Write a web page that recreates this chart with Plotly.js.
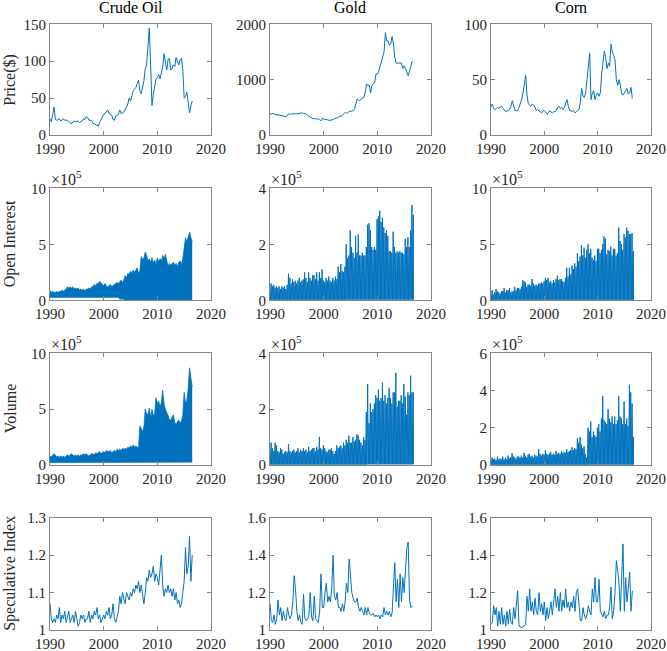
<!DOCTYPE html>
<html><head><meta charset="utf-8">
<script src="https://cdn.plot.ly/plotly-3.0.1.min.js"></script>
<style>html,body{margin:0;padding:0;background:#fff}#chart{width:667px;height:651px}</style>
</head><body><div id="chart"></div>
<script>
// ---------- data (quarterly samples, 1990.00 ... 2016.50) ----------
const startYear = 1990, stepYear = 0.25;
const commodities = ['Crude Oil', 'Gold', 'Corn'];
const rowLabels = ['Price($)', 'Open Interest', 'Volume', 'Speculative Index'];
const xTickVals = [1990, 2000, 2010, 2020];
const xTickText = ['1990', '2000', '2010', '2020'];

// Row 1: prices
const oilPrice = [22,18,28,38, 21,20,21,22, 19,21,22,20, 20,20,18,16, 15,18,19,18, 18,19,17,18,
  19,22,21,25, 24,20,20,20, 16,15,14,12, 12,17,21,24, 28,29,31,34, 29,28,27,21, 20,26,27,28,
  34,29,30,31, 34,39,42,50, 46,53,60,62, 64,70,74,60, 56,64,74,90, 95,120,145,95, 40,55,68,76,
  78,82,76,84, 92,110,98,88, 102,104,88,90, 95,93,105,98, 95,102,104,88, 50,52,58,45, 30,40,46];
const goldPrice = [400,370,390,380, 365,360,365,360, 350,340,345,335, 330,360,390,365, 385,380,385,385,
  380,385,385,385, 400,390,385,380, 350,340,325,310, 295,300,290,295, 290,280,255,300, 285,280,280,270,
  265,265,270,280, 295,310,310,320, 350,330,360,385, 410,390,400,430, 425,430,440,470, 560,650,630,620,
  650,670,680,780, 920,900,900,760, 900,920,950,1100, 1100,1150,1230,1350, 1400,1500,1850,1700,
  1700,1620,1650,1780, 1650,1400,1300,1300, 1300,1300,1300,1200, 1250,1200,1150,1070, 1150,1250,1340];
const cornPrice = [25,28,24,23, 24,25,24,25, 26,24,22,21, 22,22,23,26, 31,27,22,22, 22,25,28,32,
  38,48,54,36, 28,27,26,28, 27,25,22,23, 22,21,20,22, 22,21,19,20, 22,21,20,21, 21,22,25,26,
  24,25,23,25, 28,32,26,22, 22,21,22,20, 21,22,23,30, 42,35,34,38, 50,62,74,32, 38,40,32,36,
  38,35,38,55, 65,76,70,60, 65,62,82,75, 72,68,50,45, 50,45,37,36, 38,40,42,37, 38,43,33];

// Row 2: open interest (x10^5)
const oilOIUpper = [0.9,0.7,0.8,0.7, 0.7,0.8,0.7,0.8, 0.8,0.9,0.8,0.9, 1.0,1.2,1.1,1.2, 1.1,1.2,1.0,1.1,
  1.0,1.1,0.9,1.0, 0.9,1.0,0.8,1.0, 1.0,1.1,1.0,1.2, 1.2,1.4,1.3,1.5, 1.5,1.7,1.5,1.4, 1.3,1.5,1.3,1.2,
  1.3,1.4,1.2,1.3, 1.4,1.5,1.6,1.5, 1.7,1.8,1.6,1.8, 2.2,2.0,2.4,2.3, 2.6,2.4,2.7,2.5, 2.7,2.9,2.4,2.6,
  3.9,3.6,3.8,4.3, 4.0,3.5,3.7,3.4, 3.8,3.3,3.6,3.2, 3.8,3.4,3.7,3.5, 4.0,3.7,4.1,3.6, 3.0,3.3,3.1,3.3,
  3.4,3.1,3.3,3.0, 3.4,3.5,3.2,3.7, 5.0,5.6,5.2,5.8, 6.1,5.6,5.3];
const oilOILowerYearly = [0.25,0.25,0.25,0.25,0.25,0.25,0.25,0.25,0.25,0.25,0.25,0.25,0.25,0.1,
  0,0,0,0,0,0,0,0,0,0,0,0,0];
const goldOIPeak = [0.6,0.5,0.55,0.45, 0.5,0.45,0.5,0.4, 0.5,0.45,0.5,0.4, 0.55,0.95,0.8,0.6, 0.75,0.65,0.7,0.6,
  0.7,0.8,0.65,0.7, 0.75,1.0,0.8,0.65, 1.0,0.8,0.7,0.9, 0.9,0.75,1.0,0.7, 1.0,0.8,1.1,0.7, 0.65,0.8,0.7,0.85,
  0.7,0.65,0.8,0.7, 0.85,0.75,1.2,1.0, 1.3,1.05,1.0,1.2, 2.0,1.5,1.6,2.5, 1.9,1.7,1.5,2.3, 1.7,2.35,1.6,1.6,
  1.7,1.6,1.6,1.9, 2.7,2.75,2.5,1.9, 1.8,1.9,1.8,2.9, 3.0,3.2,2.8,2.95, 2.6,2.4,2.5,2.3, 1.75,1.75,1.7,2.45,
  1.9,1.7,1.75,1.7, 1.75,1.7,1.7,1.65, 2.2,1.9,2.25,1.9, 2.5,3.4,3.05];
const goldOITroughYearly = [0.02,0.02,0.02,0.02,0.02,0.02,0.02,0.02,0.02,0.02,0.02,0.02,0.02,0.02,
  0.03,0.03,0.03,0.03,0.03,0.03,0.03,0.03,0.03,0.03,0.03,0.03,0.03];
const cornOIPeak = [0.9,0.5,0.7,1.0, 0.8,0.7,0.6,0.8, 0.8,1.1,0.7,0.9, 0.9,1.1,0.7,0.8, 0.8,1.2,0.9,1.1,
  1.1,1.0,1.2,1.8, 1.7,1.6,1.2,1.4, 1.4,1.3,1.9,1.5, 1.3,1.4,1.3,1.5, 1.5,1.6,1.5,1.7, 2.0,1.8,2.0,1.6,
  1.7,1.5,1.8,1.6, 1.9,2.2,1.8,1.9, 1.9,1.7,1.6,2.0, 2.9,2.1,2.9,2.3, 3.1,2.8,3.3,3.0, 4.2,3.5,3.9,4.9,
  4.0,4.7,3.8,4.5, 5.0,4.2,4.6,3.8, 3.6,4.0,3.5,4.6, 4.6,4.2,4.5,5.0, 5.7,5.5,4.1,4.5, 4.4,4.8,4.0,4.6,
  4.6,4.0,4.2,6.5, 5.3,5.0,4.5,5.9, 5.6,6.5,6.2,5.9, 5.9,6.0,4.4];
const cornOITroughYearly = [0.05,0.05,0.05,0.05,0.05,0.05,0.05,0.05,0.05,0.05,0.05,0.05,0.05,0.05,
  0.05,0.05,0.05,0.05,0.05,0.05,0.05,0.05,0.05,0.05,0.05,0.05,0.05];

// Row 3: volume (x10^5)
const oilVolUpper = [0.8,0.7,0.9,1.0, 0.9,0.7,0.8,0.7, 0.8,0.7,0.8,0.7, 0.8,0.9,0.8,0.9, 1.0,0.9,0.8,0.9,
  0.8,0.9,0.8,0.9, 0.9,1.0,0.9,1.0, 0.9,0.8,0.9,1.0, 1.0,0.9,1.1,1.0, 1.1,1.2,1.0,1.1, 1.2,1.1,1.3,1.2,
  1.2,1.3,1.1,1.2, 1.3,1.2,1.4,1.3, 1.4,1.3,1.5,1.4, 1.5,1.4,1.6,1.5, 1.7,1.6,1.8,1.6, 1.7,1.6,1.5,3.5,
  3.2,3.0,3.4,5.0, 4.6,4.5,5.1,4.2, 5.0,4.4,4.6,6.0, 5.5,5.7,5.2,5.6, 6.7,5.5,5.0,4.6, 4.4,4.1,4.0,4.3,
  4.5,3.8,3.6,3.9, 4.0,3.8,3.9,4.5, 6.5,5.5,5.8,6.8, 8.7,7.8,7.0];
const oilVolLowerYearly = [0.2,0.2,0.2,0.2,0.2,0.2,0.2,0.2,0.2,0.2,0.2,0.2,0.2,0.2,0.2,0.2,0.2,
  0.25,0.25,0.25,0.25,0.25,0.25,0.25,0.25,0.25,0.25];
const goldVolPeak = [0.8,0.6,0.5,0.8, 0.7,0.5,0.45,0.6, 0.55,0.4,0.45,0.5, 0.45,0.75,0.5,0.45, 0.5,0.55,0.45,0.5,
  0.6,0.45,0.55,0.5, 0.6,0.5,0.55,0.45, 0.65,0.5,0.55,0.6, 0.6,0.5,0.65,0.55, 1.0,0.6,0.55,0.7, 0.6,0.5,0.45,0.55,
  0.55,0.6,0.5,0.4, 0.5,0.7,0.6,0.65, 0.7,0.6,0.8,0.7, 0.9,0.8,1.05,0.8, 0.8,1.0,0.85,0.9, 1.1,1.05,0.9,0.8,
  0.7,1.0,0.9,1.9, 2.9,1.5,2.2,1.9, 2.0,2.2,2.5,2.4, 2.7,2.3,2.4,2.95, 2.3,2.5,2.2,2.4, 2.75,2.4,2.2,2.6,
  2.6,3.3,2.1,2.3, 2.3,2.5,2.2,2.9, 2.45,1.8,2.6,2.5, 3.2,2.6,2.6];
const goldVolTroughYearly = [0.02,0.02,0.02,0.02,0.02,0.02,0.02,0.02,0.02,0.02,0.02,0.02,0.02,0.02,
  0.02,0.02,0.02,0.02,0.04,0.04,0.04,0.04,0.04,0.04,0.04,0.04,0.04];
const cornVolPeak = [0.4,0.3,0.35,0.25, 0.45,0.3,0.35,0.3, 0.45,0.3,0.4,0.3, 0.5,0.35,0.4,0.63, 0.45,0.4,0.35,0.45,
  0.45,0.4,0.5,0.4, 0.65,0.5,0.4,0.55, 0.6,0.45,0.5,0.4, 0.55,0.5,0.45,0.84, 0.6,0.5,0.6,0.55, 0.8,0.6,0.55,0.6,
  0.7,0.55,0.6,0.55, 0.75,0.6,0.65,0.6, 0.75,0.65,0.7,0.65, 0.85,0.7,0.75,0.8, 0.95,0.8,0.9,0.85, 1.43,1.2,1.5,1.1,
  0.9,1.0,0.6,0.4, 2.0,1.8,2.33,1.5, 1.8,1.6,1.5,2.0, 2.2,1.8,2.5,3.7, 2.4,2.3,2.2,3.0, 2.5,2.3,2.6,2.2,
  2.6,2.2,2.4,3.7, 2.6,2.5,2.2,3.4, 2.2,2.5,2.1,4.3, 3.9,3.3,1.5];
const cornVolTroughYearly = [0.02,0.02,0.02,0.02,0.02,0.02,0.02,0.02,0.02,0.02,0.02,0.02,0.02,0.02,
  0.02,0.02,0.02,0.02,0.03,0.03,0.03,0.03,0.03,0.03,0.03,0.03,0.03];

// Row 4: speculative index
const oilSpec = [1.07,1.03,1.02,1.03, 1.02,1.04,1.03,1.06, 1.02,1.04,1.03,1.05, 1.02,1.04,1.05,1.02,
  1.03,1.04,1.02,1.05, 1.03,1.01,1.02,1.04, 1.03,1.04,1.02,1.03, 1.03,1.05,1.02,1.04, 1.03,1.05,1.04,1.06,
  1.03,1.04,1.02,1.03, 1.04,1.03,1.05,1.04, 1.06,1.03,1.04,1.07, 1.03,1.02,1.04,1.05, 1.09,1.07,1.10,1.08,
  1.07,1.10,1.09,1.08, 1.10,1.09,1.11,1.10, 1.12,1.11,1.13,1.10, 1.12,1.09,1.07,1.10, 1.14,1.13,1.16,1.14,
  1.15,1.17,1.13,1.15, 1.14,1.12,1.16,1.20, 1.12,1.09,1.11,1.10, 1.12,1.10,1.11,1.09, 1.11,1.08,1.10,1.07,
  1.08,1.06,1.07,1.10, 1.13,1.22,1.15,1.17, 1.25,1.13,1.20];
const goldSpec = [1.14,1.05,1.04,1.08, 1.03,1.06,1.16,1.08, 1.12,1.05,1.10,1.06, 1.05,1.12,1.08,1.06,
  1.08,1.15,1.29,1.22, 1.10,1.05,1.08,1.04, 1.03,1.19,1.06,1.05, 1.06,1.08,1.20,1.07, 1.05,1.18,1.06,1.05,
  1.04,1.10,1.30,1.12, 1.12,1.20,1.25,1.15, 1.18,1.15,1.22,1.40, 1.18,1.16,1.20,1.12, 1.12,1.10,1.14,1.10,
  1.15,1.25,1.20,1.38, 1.30,1.20,1.17,1.15, 1.15,1.17,1.12,1.10, 1.12,1.10,1.08,1.12, 1.08,1.12,1.09,1.08,
  1.08,1.09,1.07,1.08, 1.07,1.08,1.06,1.08, 1.07,1.12,1.08,1.10, 1.08,1.10,1.07,1.09, 1.20,1.36,1.15,1.27,
  1.12,1.30,1.15,1.28, 1.20,1.35,1.44,1.47, 1.16,1.12,1.13];
const cornSpec = [1.03,1.04,1.13,1.08, 1.12,1.02,1.10,1.03, 1.12,1.03,1.08,1.02, 1.10,1.03,1.11,1.04,
  1.03,1.12,1.06,1.15, 1.21,1.02,1.02,1.01, 1.02,1.02,1.03,1.18, 1.10,1.22,1.10,1.15, 1.08,1.17,1.10,1.08,
  1.20,1.10,1.14,1.08, 1.15,1.05,1.12,1.06, 1.12,1.15,1.08,1.14, 1.22,1.12,1.18,1.10, 1.20,1.10,1.16,1.12,
  1.22,1.12,1.15,1.10, 1.15,1.12,1.18,1.10, 1.20,1.22,1.12,1.05, 1.05,1.12,1.08,1.06, 1.08,1.13,1.10,1.08,
  1.22,1.15,1.28,1.15, 1.15,1.27,1.10,1.08, 1.07,1.10,1.06,1.08, 1.08,1.12,1.23,1.06, 1.10,1.20,1.37,1.32,
  1.25,1.10,1.28,1.46, 1.10,1.28,1.15,1.25, 1.31,1.10,1.21];

// Axis ticks per panel [row][col]
const yTickVals = [
  [[0,50,100,150], [0,1000,2000], [0,50,100]],
  [[0,5,10], [0,2,4], [0,5,10]],
  [[0,5,10], [0,2,4], [0,2,4,6]],
  [[1,1.1,1.2,1.3], [1,1.2,1.4,1.6], [1,1.2,1.4,1.6]]
];
const yTickText = [
  [['0','50','100','150'], ['0','1000','2000'], ['0','50','100']],
  [['0','5','10'], ['0','2','4'], ['0','5','10']],
  [['0','5','10'], ['0','2','4'], ['0','2','4','6']],
  [['1','1.1','1.2','1.3'], ['1','1.2','1.4','1.6'], ['1','1.2','1.4','1.6']]
];
const exponentLabel = '\u00d710<sup>5</sup>';

// ---------- build ----------
const BLUE = '#0072BD';
const FONT = 'Liberation Serif';
const times = n => Array.from({length: n}, (_, i) => startYear + i * stepYear);
const byYear = (arr, n) => Array.from({length: n}, (_, i) => arr[Math.floor(i * stepYear)]);

function lineTrace(vals, k) {
  return {x: times(vals.length), y: vals, type: 'scatter', mode: 'lines',
    line: {color: BLUE, width: 1}, xaxis: 'x' + k, yaxis: 'y' + k, hoverinfo: 'skip'};
}
function bandTraces(upper, lowerYearly, k) {
  const x = times(upper.length);
  return [
    {x: x, y: byYear(lowerYearly, upper.length), type: 'scatter', mode: 'lines',
      line: {color: BLUE, width: 0.5}, xaxis: 'x' + k, yaxis: 'y' + k, hoverinfo: 'skip'},
    {x: x, y: upper, type: 'scatter', mode: 'lines', fill: 'tonexty', fillcolor: BLUE,
      line: {color: BLUE, width: 0.8}, xaxis: 'x' + k, yaxis: 'y' + k, hoverinfo: 'skip'}
  ];
}
function sawTrace(peaks, troughYearly, k) {
  const x = [], y = [];
  peaks.forEach((p, i) => {
    const t = startYear + i * stepYear;
    const tr = troughYearly[Math.floor(i * stepYear)];
    x.push(t, t + 0.07, t + 0.2, t + 0.22);
    y.push(tr, tr, p, tr);
  });
  return {x: x, y: y, type: 'scatter', mode: 'lines', fill: 'tozeroy',
    fillcolor: 'rgba(0,114,189,0.5)', line: {color: BLUE, width: 1},
    xaxis: 'x' + k, yaxis: 'y' + k, hoverinfo: 'skip'};
}

const traces = [
  lineTrace(oilPrice, 1), lineTrace(goldPrice, 2), lineTrace(cornPrice, 3),
  ...bandTraces(oilOIUpper, oilOILowerYearly, 4), sawTrace(goldOIPeak, goldOITroughYearly, 5), sawTrace(cornOIPeak, cornOITroughYearly, 6),
  ...bandTraces(oilVolUpper, oilVolLowerYearly, 7), sawTrace(goldVolPeak, goldVolTroughYearly, 8), sawTrace(cornVolPeak, cornVolTroughYearly, 9),
  lineTrace(oilSpec, 10), lineTrace(goldSpec, 11), lineTrace(cornSpec, 12)
];

const W = 667, H = 651;
const colPx = [[50, 211], [270, 431], [491, 651]];
const rowPx = [[24.3, 135], [188.3, 300.3], [353.3, 465], [517.7, 630]];
const colDom = colPx.map(c => [c[0] / W, c[1] / W]);
const rowDom = rowPx.map(r => [1 - r[1] / H, 1 - r[0] / H]);

const axBase = {showline: true, linecolor: '#858585', linewidth: 1, mirror: 'ticks',
  ticks: 'inside', ticklen: 4, tickcolor: '#858585', tickwidth: 1, showgrid: false, zeroline: false,
  fixedrange: true, tickfont: {family: FONT, size: 15, color: '#262626'}};

const layout = {width: W, height: H, margin: {l: 0, r: 0, t: 0, b: 0}, showlegend: false,
  paper_bgcolor: '#fff', plot_bgcolor: '#fff', font: {family: FONT, size: 15, color: '#262626'},
  annotations: []};

for (let r = 0; r < 4; r++) {
  for (let c = 0; c < 3; c++) {
    const k = r * 3 + c + 1;
    const sfx = k === 1 ? '' : String(k);
    const yv = yTickVals[r][c];
    layout['xaxis' + sfx] = Object.assign({}, axBase, {domain: colDom[c], anchor: 'y' + sfx,
      range: [xTickVals[0], xTickVals[xTickVals.length - 1]], tickmode: 'array',
      tickvals: xTickVals, ticktext: xTickText});
    layout['yaxis' + sfx] = Object.assign({}, axBase, {domain: rowDom[r], anchor: 'x' + sfx,
      range: [yv[0], yv[yv.length - 1]], tickmode: 'array', tickvals: yv, ticktext: yTickText[r][c]});
    if (r === 1 || r === 2) {
      layout.annotations.push({text: exponentLabel, xref: 'paper', yref: 'paper',
        x: colDom[c][0], y: rowDom[r][1], xanchor: 'left', yanchor: 'bottom', showarrow: false,
        font: {family: FONT, size: 16, color: '#262626'}, xshift: -1, yshift: -2});
    }
  }
}
commodities.forEach((name, c) => {
  layout.annotations.push({text: name, xref: 'paper', yref: 'paper',
    x: (colDom[c][0] + colDom[c][1]) / 2, y: 1, xanchor: 'center', yanchor: 'top',
    showarrow: false, font: {family: FONT, size: 16, color: '#000'}, yshift: 3});
});
rowLabels.forEach((lab, r) => {
  layout.annotations.push({text: lab, xref: 'paper', yref: 'paper', x: 10 / W,
    y: (rowDom[r][0] + rowDom[r][1]) / 2, xanchor: 'center', yanchor: 'middle', textangle: -90,
    showarrow: false, font: {family: FONT, size: 16, color: '#262626'}});
});

Plotly.newPlot('chart', traces, layout, {staticPlot: true, displayModeBar: false});
</script>
</body></html>
